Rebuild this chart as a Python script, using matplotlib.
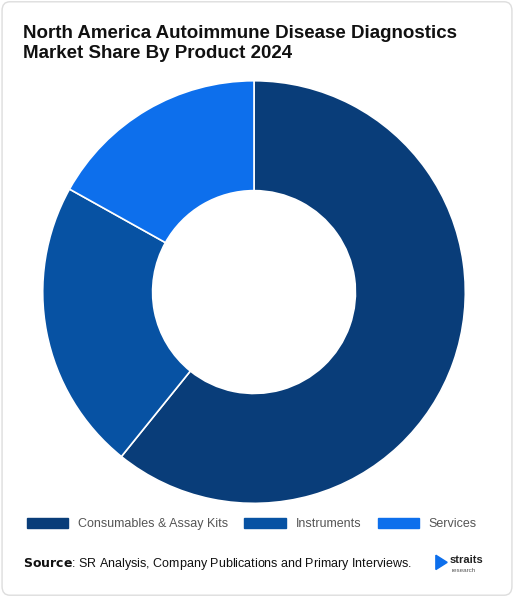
import matplotlib.pyplot as plt
from matplotlib.patches import FancyBboxPatch

plt.rcParams["font.family"] = ["Liberation Sans", "DejaVu Sans"]

labels = ["Consumables & Assay Kits", "Instruments", "Services"]
shares = [60.8, 22.3, 16.9]
colors = ["#093d79", "#0752a3", "#0d6fec"]

fig = plt.figure(figsize=(5.14, 5.97), dpi=100)
bg = FancyBboxPatch((0.004, 0.003), 0.992, 0.994, boxstyle="round,pad=0,rounding_size=0.015",
                    transform=fig.transFigure, facecolor="white", edgecolor="#dddddd", lw=1, zorder=-10)
fig.patches.append(bg)

fig.text(0.045, 0.958, "North America Autoimmune Disease Diagnostics\nMarket Share By Product 2024",
         fontsize=13.5, fontweight="bold", va="top", ha="left", color="#111111", linespacing=1.2)

ax = fig.add_axes([0.0817, 0.1558, 0.825, 0.710])
ax.pie(shares, colors=colors, startangle=90, counterclock=False,
       wedgeprops=dict(width=0.52, edgecolor="white", linewidth=1.2))
ax.set_xlim(-1.003, 1.003)
ax.set_ylim(-1.003, 1.003)
ax.set_aspect("equal")

handles = [plt.Rectangle((0, 0), 1, 1, color=c) for c in colors]
fig.legend(handles, labels, loc="center", bbox_to_anchor=(0.49, 0.122), ncol=3, frameon=False,
           fontsize=9, handlelength=3.3, handleheight=0.8, columnspacing=1.3, labelcolor="#555555")

fig.text(0.045, 0.055, r"$\bf{Source}$: SR Analysis, Company Publications and Primary Interviews.",
         fontsize=9, va="center", color="#111111")
fig.text(0.875, 0.062, "straits", fontsize=8, fontweight="bold", va="center", color="#222222")
fig.text(0.878, 0.045, "research", fontsize=4.5, va="center", color="#555555")
fig.patches.append(plt.Polygon([[0.848, 0.07], [0.87, 0.058], [0.848, 0.046]], closed=True,
                               transform=fig.transFigure, color="#0d6fec"))

fig.savefig("out.png", dpi=100)
